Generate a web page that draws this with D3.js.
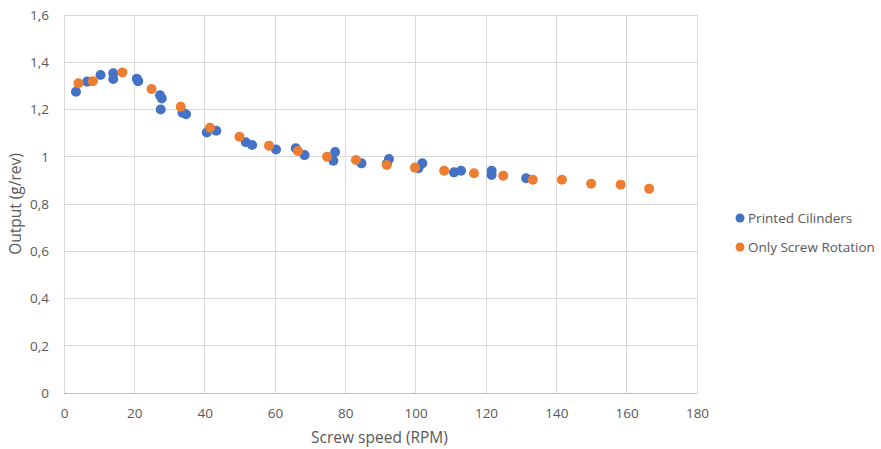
<!DOCTYPE html>
<html>
<head>
<meta charset="utf-8">
<script src="https://cdn.jsdelivr.net/npm/d3@7"></script>
<style>
  body { margin: 0; background: #fff; }
  text { font-family: "Open Sans", sans-serif; fill: #595959; }
</style>
</head>
<body>
<div class="container"></div>
<script>
const WIDTH = 881;
const HEIGHT = 449;
const LEFT = 64, RIGHT = 697, TOP = 15, BOTTOM = 393;

var xTicks = [0, 20, 40, 60, 80, 100, 120, 140, 160, 180];
var yTicks = [0, 0.2, 0.4, 0.6, 0.8, 1, 1.2, 1.4, 1.6];

var printedX = [3.4, 6.6, 10.4, 14.0, 14.0, 20.7, 21.1, 27.3, 27.8, 27.5, 33.7, 34.7, 40.6, 43.3,
    51.7, 53.5, 60.3, 65.9, 68.4, 77.1, 76.6, 84.6, 92.4, 91.8, 101.9, 100.8, 110.9, 112.9,
    121.6, 121.6, 131.4];
var printedY = [1.275, 1.318, 1.346, 1.353, 1.329, 1.33, 1.32, 1.26, 1.247, 1.2, 1.186, 1.18, 1.103, 1.11,
    1.061, 1.05, 1.031, 1.036, 1.007, 1.02, 0.983, 0.972, 0.99, 0.97, 0.972, 0.951, 0.934, 0.941,
    0.941, 0.923, 0.909];

var screwX = [4.1, 8.2, 16.6, 24.9, 33.2, 41.5, 49.9, 58.3, 66.5, 74.8, 83.0, 91.8, 99.8, 108.1,
    116.6, 124.9, 133.3, 141.6, 149.9, 158.3, 166.4];
var screwY = [1.311, 1.32, 1.357, 1.287, 1.212, 1.123, 1.085, 1.047, 1.024, 1.0, 0.986, 0.965, 0.954, 0.941,
    0.93, 0.92, 0.903, 0.903, 0.886, 0.882, 0.865];

var seriesNames = ['Printed Cilinders', 'Only Screw Rotation'];
var colors = ['#4472C4', '#ED7D31'];

var fmt = function(d) { return String(d).replace('.', ','); };

var fillLayout = function() {
    var svg = d3.select('.container').append('svg')
        .attr('width', WIDTH)
        .attr('height', HEIGHT);

    let xScale = d3.scaleLinear().domain([0, 180]).range([LEFT, RIGHT]);
    let yScale = d3.scaleLinear().domain([0, 1.6]).range([BOTTOM, TOP]);

    // gridlines
    svg.append('g').selectAll('line').data(yTicks).enter()
        .append('line')
        .attr('x1', LEFT).attr('x2', RIGHT)
        .attr('y1', d => yScale(d)).attr('y2', d => yScale(d))
        .attr('stroke', d => d === 0 ? '#bfbfbf' : '#d9d9d9')
        .attr('shape-rendering', 'crispEdges');
    svg.append('g').selectAll('line').data(xTicks).enter()
        .append('line')
        .attr('y1', TOP).attr('y2', BOTTOM)
        .attr('x1', d => xScale(d)).attr('x2', d => xScale(d))
        .attr('stroke', '#d9d9d9')
        .attr('shape-rendering', 'crispEdges');

    // axes (labels only)
    let xAxis = d3.axisBottom(xScale).tickValues(xTicks).tickSize(0).tickPadding(15).tickFormat(fmt);
    let yAxis = d3.axisLeft(yScale).tickValues(yTicks).tickSize(0).tickPadding(15).tickFormat(fmt);

    var gx = svg.append('g').attr('transform', `translate(0,${BOTTOM})`).call(xAxis);
    var gy = svg.append('g').attr('transform', `translate(${LEFT},0)`).call(yAxis);
    [gx, gy].forEach(g => {
        g.select('.domain').remove();
        g.selectAll('text').attr('font-size', 13.5).attr('fill', '#595959')
            .attr('font-family', '"Open Sans", sans-serif');
    });

    svg.append('text')
        .attr('x', (LEFT + RIGHT) / 2 - 1).attr('y', 443)
        .attr('text-anchor', 'middle').attr('font-size', 15.5)
        .text('Screw speed (RPM)');
    svg.append('text')
        .attr('transform', `translate(21,${(TOP + BOTTOM) / 2}) rotate(-90)`)
        .attr('text-anchor', 'middle').attr('font-size', 15.5)
        .text('Output (g/rev)');

    // points
    var series = [
        d3.zip(printedX, printedY),
        d3.zip(screwX, screwY)
    ];
    series.forEach((pts, i) => {
        svg.append('g').selectAll('circle').data(pts).enter()
            .append('circle')
            .attr('cx', d => xScale(d[0]))
            .attr('cy', d => yScale(d[1]))
            .attr('r', 5)
            .attr('fill', colors[i]);
    });

    // legend
    var legend = svg.append('g');
    seriesNames.forEach((name, i) => {
        var y = 218 + i * 29;
        legend.append('circle').attr('cx', 740).attr('cy', y).attr('r', 4.5).attr('fill', colors[i]);
        legend.append('text').attr('x', 748).attr('y', y + 5)
            .attr('font-size', 13.5).text(name);
    });
};
window.onload = fillLayout;
</script>
</body>
</html>
